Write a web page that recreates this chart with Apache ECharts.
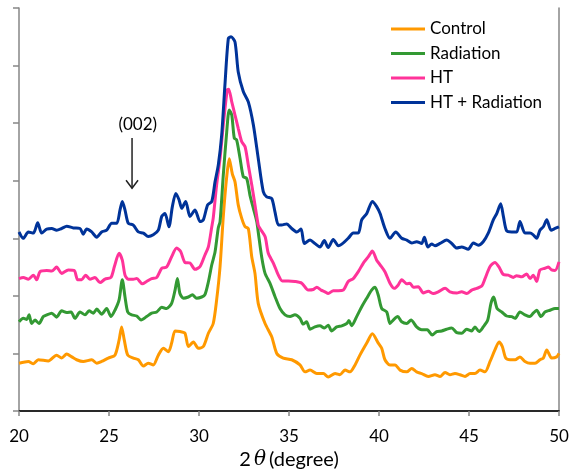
<!DOCTYPE html>
<html>
<head>
<meta charset="utf-8">
<script src="https://cdn.jsdelivr.net/npm/echarts@6/dist/echarts.min.js"></script>
<style>html,body{margin:0;padding:0;background:#fff}#c{width:569px;height:471px}</style>
</head>
<body>
<div id="c"></div>
<script>
var seriesNames = ['Control', 'Radiation', 'HT', 'HT + Radiation'];
var seriesColors = ['#FF9900', '#339933', '#FF3399', '#003399'];

var control = [[20.0,0.83],[20.52,0.86],[20.8,0.82],[21.07,0.89],[21.63,0.87],[22.09,0.97],[22.37,0.92],[22.65,0.99],[22.93,0.94],[23.2,0.89],[23.57,0.86],[24.04,0.89],[24.32,0.83],[24.59,0.86],[24.96,0.92],[25.33,0.97],[25.56,1.23],[25.7,1.46],[25.85,1.23],[26.04,0.97],[26.35,0.92],[26.63,0.89],[26.91,0.78],[27.18,0.83],[27.46,0.80],[27.74,0.97],[28.02,1.09],[28.3,1.03],[28.48,1.18],[28.67,1.39],[28.94,1.38],[29.22,1.35],[29.41,1.12],[29.69,1.20],[29.96,1.09],[30.24,1.12],[30.52,1.35],[30.79,1.52],[30.98,1.93],[31.17,2.51],[31.35,3.38],[31.54,4.07],[31.68,4.38],[31.85,4.12],[32.0,3.98],[32.18,3.58],[32.37,3.35],[32.56,3.20],[32.74,3.17],[32.93,2.68],[33.11,2.39],[33.29,1.87],[33.67,1.52],[34.04,1.29],[34.32,1.00],[34.68,0.92],[35.15,0.89],[35.61,0.80],[35.89,0.68],[36.17,0.71],[36.54,0.65],[36.91,0.65],[37.18,0.59],[37.56,0.65],[37.83,0.63],[38.11,0.71],[38.39,0.68],[38.67,0.80],[38.94,0.97],[39.32,1.18],[39.63,1.34],[39.96,1.18],[40.15,1.09],[40.33,0.89],[40.61,0.80],[40.89,0.80],[41.17,0.71],[41.54,0.68],[41.82,0.74],[42.09,0.68],[42.37,0.65],[42.74,0.60],[43.11,0.63],[43.39,0.60],[43.67,0.67],[43.94,0.63],[44.22,0.65],[44.5,0.63],[44.78,0.60],[45.06,0.65],[45.33,0.65],[45.61,0.71],[45.89,0.68],[46.17,0.86],[46.44,1.06],[46.67,1.20],[46.85,1.12],[47.04,0.92],[47.28,0.89],[47.56,0.89],[47.83,0.94],[48.11,0.86],[48.39,0.83],[48.67,0.83],[48.94,0.89],[49.13,0.92],[49.32,1.06],[49.59,0.92],[49.87,0.94],[50.0,1.00]];

var radiation = [[20.0,1.55],[20.24,1.61],[20.43,1.59],[20.56,1.67],[20.7,1.52],[20.89,1.58],[21.11,1.52],[21.35,1.64],[21.54,1.67],[21.82,1.70],[22.09,1.63],[22.37,1.74],[22.65,1.71],[22.89,1.72],[23.11,1.61],[23.39,1.72],[23.67,1.67],[23.89,1.74],[24.13,1.70],[24.32,1.77],[24.59,1.68],[24.87,1.78],[25.11,1.64],[25.33,1.75],[25.56,1.93],[25.74,2.28],[25.89,1.98],[26.04,1.72],[26.26,1.67],[26.54,1.65],[26.78,1.58],[27.09,1.64],[27.37,1.70],[27.65,1.72],[27.93,1.80],[28.2,1.78],[28.48,1.87],[28.67,2.10],[28.8,2.30],[28.94,2.04],[29.13,1.96],[29.41,1.98],[29.63,2.02],[29.87,1.96],[30.15,1.98],[30.33,2.02],[30.52,2.24],[30.71,2.54],[30.89,2.76],[31.07,3.18],[31.17,3.29],[31.35,4.10],[31.54,4.85],[31.68,5.23],[31.82,5.14],[31.96,4.74],[32.09,4.71],[32.28,4.39],[32.46,4.07],[32.65,4.04],[32.83,3.75],[33.02,3.52],[33.21,3.29],[33.29,3.11],[33.48,2.68],[33.67,2.39],[33.94,2.22],[34.22,1.99],[34.5,1.78],[34.78,1.67],[35.06,1.64],[35.33,1.67],[35.61,1.61],[35.79,1.51],[35.98,1.55],[36.17,1.42],[36.44,1.46],[36.72,1.48],[36.96,1.44],[37.18,1.49],[37.37,1.39],[37.65,1.46],[37.93,1.48],[38.21,1.52],[38.33,1.57],[38.48,1.48],[38.76,1.64],[39.04,1.81],[39.32,1.96],[39.59,2.10],[39.78,2.15],[39.96,2.01],[40.15,1.78],[40.43,1.72],[40.61,1.52],[40.79,1.58],[41.04,1.64],[41.26,1.55],[41.54,1.52],[41.78,1.58],[42.09,1.46],[42.37,1.41],[42.68,1.41],[42.96,1.32],[43.2,1.38],[43.48,1.39],[43.76,1.42],[44.04,1.44],[44.32,1.36],[44.59,1.35],[44.87,1.42],[45.15,1.39],[45.33,1.46],[45.56,1.38],[45.79,1.46],[46.04,1.58],[46.22,1.87],[46.37,1.98],[46.56,1.78],[46.82,1.72],[47.09,1.65],[47.37,1.64],[47.56,1.61],[47.83,1.72],[48.11,1.67],[48.39,1.64],[48.57,1.70],[48.76,1.75],[49.0,1.64],[49.22,1.72],[49.5,1.75],[49.78,1.78],[50.0,1.78]];

var ht = [[20.0,2.30],[20.24,2.32],[20.52,2.29],[20.8,2.36],[20.98,2.28],[21.17,2.42],[21.54,2.44],[21.82,2.43],[22.09,2.50],[22.37,2.39],[22.74,2.45],[23.07,2.44],[23.26,2.28],[23.48,2.28],[23.7,2.36],[23.94,2.29],[24.22,2.32],[24.5,2.23],[24.78,2.29],[25.11,2.32],[25.3,2.51],[25.56,2.74],[25.74,2.62],[25.89,2.36],[26.07,2.29],[26.35,2.29],[26.54,2.30],[26.85,2.21],[27.09,2.25],[27.37,2.30],[27.65,2.32],[27.93,2.48],[28.2,2.50],[28.48,2.68],[28.76,2.83],[28.98,2.77],[29.22,2.58],[29.5,2.57],[29.78,2.46],[30.06,2.51],[30.33,2.71],[30.52,2.85],[30.71,3.20],[30.79,3.35],[30.98,3.93],[31.17,4.39],[31.35,4.97],[31.57,5.58],[31.65,5.59],[31.82,5.37],[32.0,5.14],[32.18,4.91],[32.37,4.68],[32.56,4.59],[32.74,4.27],[32.93,3.93],[33.11,3.58],[33.29,3.23],[33.39,3.17],[33.67,3.03],[33.85,2.74],[34.13,2.57],[34.41,2.36],[34.63,2.26],[34.96,2.26],[35.33,2.25],[35.71,2.22],[36.07,2.10],[36.35,2.11],[36.54,2.15],[36.78,2.10],[37.0,2.07],[37.18,2.04],[37.46,2.09],[37.74,2.09],[38.02,2.10],[38.29,2.25],[38.57,2.30],[38.85,2.42],[39.13,2.57],[39.41,2.68],[39.63,2.78],[39.87,2.62],[40.06,2.54],[40.33,2.42],[40.61,2.22],[40.85,2.13],[41.07,2.19],[41.26,2.28],[41.54,2.21],[41.72,2.22],[41.91,2.15],[42.18,2.16],[42.46,2.05],[42.74,2.08],[43.02,2.04],[43.29,2.07],[43.67,2.13],[43.94,2.07],[44.32,2.05],[44.59,2.07],[44.87,2.04],[45.15,2.10],[45.43,2.13],[45.71,2.17],[45.89,2.30],[46.17,2.51],[46.44,2.58],[46.67,2.50],[46.91,2.37],[47.18,2.36],[47.46,2.32],[47.65,2.35],[47.93,2.33],[48.2,2.38],[48.39,2.30],[48.57,2.36],[48.76,2.25],[48.94,2.45],[49.22,2.48],[49.41,2.50],[49.59,2.45],[49.78,2.44],[50.0,2.59]];

var htRadiation = [[20.0,3.11],[20.24,3.00],[20.52,3.11],[20.8,3.09],[21.04,3.27],[21.26,3.09],[21.54,3.16],[21.82,3.17],[22.09,3.14],[22.37,3.17],[22.65,3.21],[23.02,3.18],[23.39,3.17],[23.57,3.07],[23.76,3.16],[24.04,3.11],[24.32,3.02],[24.59,3.11],[24.87,3.14],[25.15,3.26],[25.43,3.26],[25.61,3.49],[25.74,3.64],[25.89,3.49],[26.07,3.26],[26.35,3.23],[26.63,3.11],[26.91,3.09],[27.18,3.03],[27.46,3.06],[27.74,3.14],[27.93,3.38],[28.11,3.43],[28.33,3.20],[28.52,3.55],[28.71,3.78],[28.89,3.67],[29.04,3.52],[29.26,3.64],[29.5,3.38],[29.78,3.49],[30.06,3.29],[30.24,3.32],[30.48,3.58],[30.71,3.64],[30.89,3.98],[31.07,4.27],[31.26,4.79],[31.44,5.66],[31.63,6.47],[31.78,6.50],[32.0,6.41],[32.18,5.89],[32.46,5.55],[32.74,5.37],[33.02,4.97],[33.29,4.39],[33.57,3.81],[33.76,3.72],[34.04,3.69],[34.22,3.46],[34.41,3.23],[34.59,3.23],[34.87,3.25],[35.15,3.17],[35.43,3.11],[35.67,3.16],[35.85,2.91],[36.17,2.97],[36.44,2.91],[36.72,2.85],[36.96,2.96],[37.18,2.84],[37.46,2.98],[37.74,2.87],[38.02,2.92],[38.29,3.00],[38.57,3.09],[38.85,3.09],[39.04,3.32],[39.32,3.43],[39.63,3.64],[39.87,3.55],[40.06,3.43],[40.33,3.17],[40.61,3.00],[40.93,3.11],[41.26,3.00],[41.54,2.97],[41.82,2.92],[42.09,2.94],[42.37,2.91],[42.52,3.02],[42.71,2.85],[42.93,2.90],[43.11,2.87],[43.39,2.91],[43.76,2.97],[44.04,2.91],[44.32,2.83],[44.59,2.85],[44.96,2.81],[45.24,2.92],[45.52,2.88],[45.79,2.94],[46.07,3.09],[46.35,3.32],[46.54,3.43],[46.76,3.60],[46.91,3.38],[47.09,3.13],[47.37,3.11],[47.65,3.11],[47.83,3.29],[48.11,3.09],[48.39,3.09],[48.57,3.06],[48.76,3.00],[48.94,3.14],[49.13,3.20],[49.32,3.32],[49.56,3.14],[49.78,3.17],[50.0,3.20]];

var annotationText = '(002)';
var annotationAt = [26.6, 4.97];
var arrowFrom = [26.28, 4.74];
var arrowTo = [26.28, 3.87];

var FONT = 'Lato, "Noto Sans", sans-serif';
var AXIS_GRAY = '#868686';
var chart = echarts.init(document.getElementById('c'));

var allData = [control, radiation, ht, htRadiation];
var series = allData.map(function (d, i) {
  return {
    name: seriesNames[i], type: 'line', data: d, showSymbol: false, symbol: 'none',
    smooth: 0.25, lineStyle: { width: 3, color: seriesColors[i] }, itemStyle: { color: seriesColors[i] },
    xAxisIndex: 0, yAxisIndex: 0, z: 2 + i
  };
});

chart.setOption({
  animation: false,
  backgroundColor: '#fff',
  grid: { left: 19, right: 10, top: 8, bottom: 60, containLabel: false, outerBoundsMode: 'none' },
  legend: {
    orient: 'vertical', left: 386, top: 14, icon: 'rect', itemWidth: 34, itemHeight: 3, itemGap: 4.5, itemSymbolOffset: 0,
    data: seriesNames,
    textStyle: { fontFamily: FONT, fontSize: 17, color: '#000', lineHeight: 20 }
  },
  xAxis: [{
    type: 'value', min: 20, max: 50, interval: 5, position: 'bottom',
    axisLine: { show: true, lineStyle: { color: AXIS_GRAY, width: 1.5 } },
    axisTick: { show: true, inside: false, length: 5, lineStyle: { color: AXIS_GRAY, width: 1.5 } },
    axisLabel: { fontFamily: FONT, fontSize: 17, color: '#000', margin: 17 },
    splitLine: { show: false },
    name: '2{i|θ}(degree)', nameLocation: 'middle', nameGap: 38,
    nameTextStyle: { fontFamily: FONT, fontSize: 20, color: '#000', verticalAlign: 'top',
      rich: { i: { fontFamily: '"DejaVu Serif", serif', fontStyle: 'italic', fontSize: 20, color: '#000', padding: [0, 3, 0, 3] } } }
  }, {
    type: 'value', min: 20, max: 50, position: 'top',
    axisLine: { show: true, lineStyle: { color: '#000', width: 1.5 } },
    axisTick: { show: false }, axisLabel: { show: false }, splitLine: { show: false }
  }],
  yAxis: [{
    type: 'value', min: 0, max: 7, interval: 1, position: 'left',
    axisLine: { show: true, lineStyle: { color: AXIS_GRAY, width: 1.5 } },
    axisTick: { show: true, inside: false, length: 6, lineStyle: { color: AXIS_GRAY, width: 1.5 } },
    axisLabel: { show: false }, splitLine: { show: false }
  }, {
    type: 'value', min: 0, max: 7, position: 'right',
    axisLine: { show: true, lineStyle: { color: AXIS_GRAY, width: 1.5 } },
    axisTick: { show: false }, axisLabel: { show: false }, splitLine: { show: false }
  }],
  series: series
});

function drawAnnotation() {
  var t = chart.convertToPixel({ xAxisIndex: 0, yAxisIndex: 0 }, annotationAt);
  var a = chart.convertToPixel({ xAxisIndex: 0, yAxisIndex: 0 }, arrowFrom);
  var b = chart.convertToPixel({ xAxisIndex: 0, yAxisIndex: 0 }, arrowTo);
  chart.setOption({
    graphic: [
      { type: 'text', x: t[0], y: t[1], z: 100,
        style: { text: annotationText, fontFamily: FONT, fontSize: 17, fill: '#000', align: 'center', verticalAlign: 'middle' } },
      { type: 'line', z: 100, shape: { x1: a[0], y1: a[1], x2: b[0], y2: b[1] }, style: { stroke: '#222', lineWidth: 1.5 } },
      { type: 'polyline', z: 100, shape: { points: [[b[0] - 6, b[1] - 8], [b[0], b[1]], [b[0] + 6, b[1] - 8]] }, style: { stroke: '#222', lineWidth: 1.5, fill: null } }
    ]
  });
}
drawAnnotation();
</script>
</body>
</html>
